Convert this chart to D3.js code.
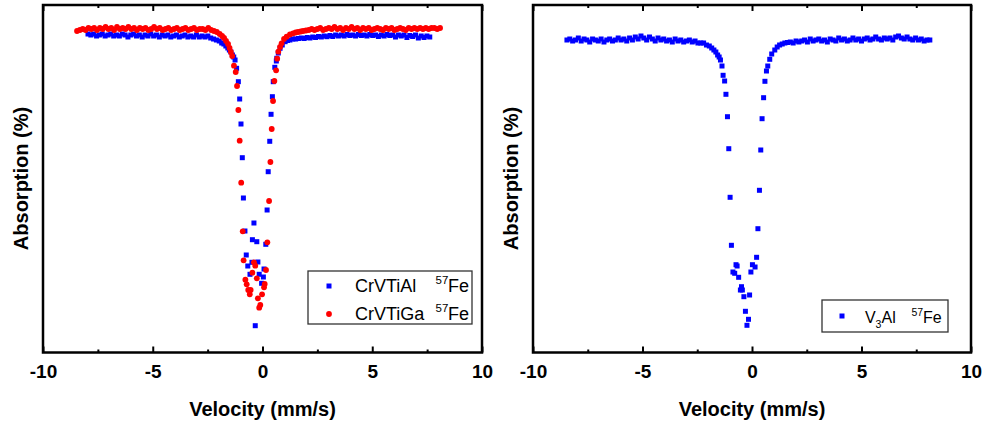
<!DOCTYPE html>
<html><head><meta charset="utf-8">
<script src="https://cdn.jsdelivr.net/npm/d3@7"></script>
<style>body{margin:0;background:#fff}svg{display:block}</style>
</head><body>
<svg id="c" width="982" height="426"></svg>
<script>
// ---- data: [velocity (mm/s), absorption (%)] ----
const xMajorTicks = [-10, -5, 0, 5, 10];
const xMinorTicks = [-7.5, -2.5, 2.5, 7.5];

const crvtial = [
[-7.95,0.04],[-7.82,0.05],[-7.69,0.04],[-7.56,0.06],[-7.43,0.05],[-7.30,0.04],[-7.17,0.06],[-7.04,0.05],[-6.91,0.04],[-6.78,0.06],
[-6.65,0.05],[-6.52,0.06],[-6.39,0.04],[-6.26,0.05],[-6.13,0.07],[-6.00,0.05],[-5.87,0.04],[-5.74,0.06],[-5.61,0.05],[-5.48,0.07],
[-5.35,0.05],[-5.22,0.06],[-5.09,0.04],[-4.96,0.06],[-4.83,0.05],[-4.70,0.07],[-4.57,0.05],[-4.44,0.06],[-4.31,0.05],[-4.18,0.07],
[-4.05,0.06],[-3.92,0.05],[-3.79,0.07],[-3.66,0.06],[-3.53,0.05],[-3.40,0.07],[-3.27,0.06],[-3.14,0.07],[-3.01,0.05],[-2.88,0.07],
[-2.75,0.06],[-2.62,0.07],[-2.49,0.06],[-2.36,0.08],[-2.23,0.09],[-2.10,0.10],[-1.97,0.11],[-1.86,0.13],[-1.76,0.14],[-1.67,0.16],
[-1.58,0.18],[-1.51,0.20],[-1.44,0.22],[-1.37,0.25],[-1.31,0.27],
[-1.25,0.30],[-1.18,0.383],[-1.10,0.517],[-1.04,0.69],[-0.98,0.94],[-0.92,1.277],[-0.87,1.68],[-0.80,2.01],[-0.74,2.25],[-0.67,2.36],
[-0.57,2.443],[-0.48,2.323],[-0.46,2.097],[-0.39,1.93],[-0.33,2.957],[-0.26,2.117],[-0.21,2.32],[-0.15,2.443],[-0.04,2.533],[0.04,2.47],
[0.07,2.39],[0.15,2.143],[0.21,1.80],[0.26,1.417],[0.33,1.113],[0.39,0.843],[0.45,0.667],[0.49,0.517],[0.56,0.373],[0.63,0.31],[0.65,0.283],
[0.72,0.23],[0.80,0.183],[0.90,0.15],[1.03,0.117],[1.14,0.105],[1.25,0.10],[1.38,0.09],[1.51,0.09],[1.64,0.085],[1.77,0.08],
[1.90,0.085],[2.03,0.075],[2.16,0.08],[2.29,0.07],[2.42,0.075],[2.55,0.065],[2.68,0.07],[2.81,0.06],[2.94,0.067],[3.07,0.055],
[3.20,0.065],[3.33,0.05],[3.46,0.06],[3.59,0.05],[3.72,0.06],[3.85,0.045],[3.98,0.055],[4.11,0.05],[4.24,0.06],[4.37,0.045],
[4.50,0.055],[4.63,0.05],[4.76,0.06],[4.89,0.045],[5.02,0.055],[5.15,0.05],[5.28,0.065],[5.41,0.05],[5.54,0.06],[5.67,0.045],
[5.80,0.055],[5.93,0.05],[6.06,0.07],[6.19,0.05],[6.32,0.06],[6.45,0.05],[6.58,0.075],[6.71,0.055],[6.84,0.065],[6.97,0.05],
[7.10,0.08],[7.23,0.06],[7.36,0.075],[7.49,0.06],[7.62,0.07]
];

const crvtiga = [
[-8.45,0.01],[-8.32,0.00],[-8.19,-0.01],[-8.06,0.00],[-7.93,-0.02],[-7.80,-0.01],[-7.67,-0.02],[-7.54,0.00],[-7.41,-0.02],[-7.28,-0.01],
[-7.15,-0.03],[-7.02,-0.01],[-6.89,-0.02],[-6.76,0.00],[-6.63,-0.03],[-6.50,-0.01],[-6.37,-0.02],[-6.24,-0.01],[-6.11,-0.03],[-5.98,-0.01],
[-5.85,-0.02],[-5.72,0.00],[-5.59,-0.02],[-5.46,-0.01],[-5.33,-0.02],[-5.20,0.00],[-5.07,-0.01],[-4.94,-0.03],[-4.81,-0.01],[-4.68,-0.02],
[-4.55,0.00],[-4.42,-0.01],[-4.29,-0.02],[-4.16,0.00],[-4.03,-0.01],[-3.90,-0.02],[-3.77,0.00],[-3.64,-0.01],[-3.51,-0.02],[-3.38,0.00],
[-3.25,-0.01],[-3.12,-0.02],[-2.99,0.00],[-2.86,-0.01],[-2.73,-0.01],[-2.60,0.00],[-2.47,-0.02],[-2.34,0.00],[-2.21,0.01],[-2.08,0.02],
[-1.95,0.04],[-1.84,0.06],[-1.75,0.08],[-1.66,0.11],[-1.57,0.14],[-1.50,0.18],[-1.44,0.22],[-1.38,0.26],
[-1.30,0.357],[-1.22,0.42],[-1.16,0.56],[-1.10,0.80],[-1.04,1.107],[-0.97,1.527],[-0.90,2.013],[-0.86,2.303],[-0.78,2.497],[-0.72,2.543],
[-0.65,2.60],[-0.58,2.643],[-0.54,2.60],[-0.46,2.427],[-0.39,2.323],[-0.33,2.357],[-0.26,2.483],[-0.21,2.683],[-0.15,2.777],[-0.10,2.75],
[-0.02,2.643],[0.07,2.573],[0.10,2.54],[0.16,2.40],[0.22,2.123],[0.30,1.71],[0.36,1.32],[0.42,0.99],[0.48,0.71],[0.54,0.51],
[0.62,0.403],[0.67,0.287],
[0.72,0.217],[0.80,0.17],[0.87,0.133],[0.98,0.09],[1.10,0.067],[1.25,0.045],[1.39,0.033],[1.51,0.025],[1.62,0.02],[1.74,0.015],
[1.85,0.01],[1.98,0.005],[2.11,0.00],[2.24,-0.01],[2.37,0.00],[2.50,-0.01],[2.63,-0.02],[2.76,0.00],[2.89,-0.01],[3.02,-0.02],
[3.15,-0.01],[3.28,-0.03],[3.41,-0.01],[3.54,-0.02],[3.67,0.00],[3.80,-0.02],[3.93,-0.01],[4.06,-0.03],[4.19,-0.01],[4.32,-0.02],
[4.45,0.00],[4.58,-0.02],[4.71,-0.01],[4.84,-0.02],[4.97,0.00],[5.10,-0.01],[5.23,-0.02],[5.36,-0.01],[5.49,0.00],[5.62,-0.02],
[5.75,-0.01],[5.88,-0.02],[6.01,0.00],[6.14,-0.01],[6.27,-0.02],[6.40,-0.01],[6.53,0.00],[6.66,-0.02],[6.79,-0.01],[6.92,-0.02],
[7.05,-0.01],[7.18,-0.02],[7.31,-0.01],[7.44,-0.02],[7.57,-0.01],[7.70,-0.02],[7.83,-0.02],[7.96,-0.01],[8.09,-0.02]
];

const v3al = [
[-8.45,0.10],[-8.32,0.09],[-8.19,0.11],[-8.06,0.10],[-7.93,0.08],[-7.80,0.11],[-7.67,0.09],[-7.54,0.10],[-7.41,0.12],[-7.28,0.09],
[-7.15,0.10],[-7.02,0.11],[-6.89,0.09],[-6.76,0.12],[-6.63,0.10],[-6.50,0.09],[-6.37,0.11],[-6.24,0.10],[-6.11,0.08],[-5.98,0.10],
[-5.85,0.09],[-5.72,0.11],[-5.59,0.08],[-5.46,0.10],[-5.33,0.07],[-5.20,0.09],[-5.07,0.06],[-4.94,0.08],[-4.81,0.10],[-4.68,0.07],
[-4.55,0.09],[-4.42,0.11],[-4.29,0.08],[-4.16,0.10],[-4.03,0.09],[-3.90,0.11],[-3.77,0.10],[-3.64,0.12],[-3.51,0.09],[-3.38,0.11],
[-3.25,0.10],[-3.12,0.12],[-2.99,0.11],[-2.86,0.10],[-2.73,0.12],[-2.60,0.11],[-2.47,0.13],
[-2.34,0.13],[-2.21,0.13],[-2.08,0.15],[-1.95,0.16],[-1.84,0.18],[-1.74,0.20],[-1.65,0.22],[-1.57,0.25],[-1.50,0.27],
[-1.44,0.30],[-1.37,0.36],[-1.32,0.453],[-1.25,0.51],[-1.19,0.643],[-1.12,0.867],[-1.06,1.187],[-1.00,1.673],[-0.94,2.153],[-0.87,2.42],
[-0.79,2.433],[-0.73,2.347],[-0.68,2.36],[-0.61,2.473],[-0.53,2.60],[-0.48,2.567],[-0.44,2.60],[-0.37,2.667],[-0.30,2.813],[-0.23,2.953],
[-0.16,2.893],[-0.11,2.65],[-0.05,2.42],[0.02,2.347],[0.14,2.37],[0.21,2.273],[0.27,1.987],[0.34,1.603],[0.40,1.20],[0.46,0.887],
[0.53,0.677],[0.59,0.513],[0.66,0.41],[0.72,0.36],[0.81,0.293],
[0.90,0.24],[1.04,0.20],[1.15,0.17],[1.26,0.15],[1.38,0.14],[1.50,0.13],[1.62,0.125],[1.75,0.12],[1.88,0.13],[2.01,0.11],[2.14,0.12],
[2.27,0.11],[2.40,0.10],[2.53,0.12],[2.66,0.09],[2.79,0.11],[2.92,0.10],[3.05,0.09],[3.18,0.11],[3.31,0.10],[3.44,0.12],
[3.57,0.09],[3.70,0.10],[3.83,0.11],[3.96,0.08],[4.09,0.10],[4.22,0.09],[4.35,0.11],[4.48,0.10],[4.61,0.08],[4.74,0.10],
[4.87,0.09],[5.00,0.11],[5.13,0.09],[5.26,0.08],[5.39,0.10],[5.52,0.09],[5.65,0.07],[5.78,0.09],[5.91,0.10],[6.04,0.08],
[6.17,0.09],[6.30,0.08],[6.43,0.10],[6.56,0.07],[6.69,0.06],[6.82,0.08],[6.95,0.09],[7.08,0.07],[7.21,0.09],[7.34,0.10],
[7.47,0.08],[7.60,0.10],[7.73,0.09],[7.86,0.11],[7.99,0.10],[8.12,0.10]
];

// ---- drawing ----
const svg = d3.select('#c');
const FONT = 'Liberation Sans, Arial, Helvetica, sans-serif';
const yTop = 5, yBot = 352.5;
const y = d3.scaleLinear().domain([-0.25, 3.225]).range([yTop, yBot]);

const panels = [
  { x0: 43, x1: 482, titleX: 27.5,
    series: [
      { name: 'CrVTiAl', data: crvtial, color: '#0000ff', shape: 'square' },
      { name: 'CrVTiGa', data: crvtiga, color: '#ff0000', shape: 'circle' }
    ],
    legend: { x: 308, y: 271, w: 164, h: 53 } },
  { x0: 533, x1: 971, titleX: 517.5,
    series: [ { name: 'V3Al', data: v3al, color: '#0000ff', shape: 'square' } ],
    legend: { x: 822, y: 300, w: 126, h: 32 } }
];

function marker(g, shape, color, cx, cy) {
  if (shape === 'square') g.append('rect').attr('x', cx - 2.5).attr('y', cy - 2.5).attr('width', 5).attr('height', 5).attr('fill', color);
  else g.append('circle').attr('cx', cx).attr('cy', cy).attr('r', 2.9).attr('fill', color);
}

panels.forEach((p, pi) => {
  const x = d3.scaleLinear().domain([-10, 10]).range([p.x0, p.x1]);
  const g = svg.append('g');

  p.series.forEach(s => {
    const sg = g.append('g');
    if (s.shape === 'square') {
      sg.selectAll('rect').data(s.data).join('rect')
        .attr('x', d => x(d[0]) - 2.5).attr('y', d => y(d[1]) - 2.5)
        .attr('width', 5).attr('height', 5).attr('fill', s.color);
    } else {
      sg.selectAll('circle').data(s.data).join('circle')
        .attr('cx', d => x(d[0])).attr('cy', d => y(d[1]))
        .attr('r', 2.9).attr('fill', s.color);
    }
  });

  // axes (ticks inward)
  const styleAxis = a => {
    a.select('.domain').remove();
    a.selectAll('.tick line').attr('stroke', '#000').attr('stroke-width', 2);
  };
  const bot = g.append('g').attr('transform', `translate(0,${yBot})`)
    .call(d3.axisBottom(x).tickValues(xMajorTicks).tickSize(-6).tickPadding(12).tickFormat(d => String(d)))
    .attr('font-family', FONT).attr('font-size', 19).attr('font-weight', 'bold');
  styleAxis(bot);
  bot.selectAll('.tick text').attr('fill', '#000');
  const botMinor = g.append('g').attr('transform', `translate(0,${yBot})`)
    .call(d3.axisBottom(x).tickValues(xMinorTicks).tickSize(-3).tickFormat(''));
  styleAxis(botMinor);
  const top = g.append('g').attr('transform', `translate(0,${yTop})`)
    .call(d3.axisTop(x).tickValues(xMajorTicks).tickSize(-6).tickFormat(''));
  styleAxis(top);
  const topMinor = g.append('g').attr('transform', `translate(0,${yTop})`)
    .call(d3.axisTop(x).tickValues(xMinorTicks).tickSize(-3).tickFormat(''));
  styleAxis(topMinor);

  // frame
  g.append('rect').attr('x', p.x0).attr('y', yTop).attr('width', p.x1 - p.x0).attr('height', yBot - yTop)
    .attr('fill', 'none').attr('stroke', '#000').attr('stroke-width', 2.5);

  // axis titles
  g.append('text').attr('x', (p.x0 + p.x1) / 2).attr('y', 416)
    .attr('text-anchor', 'middle').attr('font-family', FONT).attr('font-size', 20).attr('font-weight', 'bold')
    .text('Velocity (mm/s)');
  g.append('text').attr('transform', `translate(${p.titleX},178.5) rotate(-90)`)
    .attr('text-anchor', 'middle').attr('font-family', FONT).attr('font-size', 20).attr('font-weight', 'bold')
    .text('Absorption (%)');

  // legend
  const L = p.legend;
  const lg = g.append('g');
  lg.append('rect').attr('x', L.x).attr('y', L.y).attr('width', L.w).attr('height', L.h)
    .attr('fill', '#fff').attr('stroke', '#333').attr('stroke-width', 1.3);
  if (pi === 0) {
    const rows = [{ s: p.series[0], cy: 286, base: 292 }, { s: p.series[1], cy: 314, base: 320 }];
    rows.forEach(r => {
      marker(lg, r.s.shape, r.s.color, 329, r.cy);
      lg.append('text').attr('x', 355).attr('y', r.base).attr('font-family', FONT).attr('font-size', 18).text(r.s.name);
      lg.append('text').attr('x', 435.5).attr('y', r.base - 8).attr('font-family', FONT).attr('font-size', 11.5).text('57');
      lg.append('text').attr('x', 448).attr('y', r.base).attr('font-family', FONT).attr('font-size', 18).text('Fe');
    });
  } else {
    marker(lg, 'square', '#0000ff', 842, 316);
    lg.append('text').attr('x', 865).attr('y', 323).attr('font-family', FONT).attr('font-size', 16).text('V');
    lg.append('text').attr('x', 875.5).attr('y', 328).attr('font-family', FONT).attr('font-size', 10.5).text('3');
    lg.append('text').attr('x', 881.5).attr('y', 323).attr('font-family', FONT).attr('font-size', 16).text('Al');
    lg.append('text').attr('x', 911.5).attr('y', 316).attr('font-family', FONT).attr('font-size', 10.5).text('57');
    lg.append('text').attr('x', 923).attr('y', 323).attr('font-family', FONT).attr('font-size', 16).text('Fe');
  }
});
</script>
</body></html>
